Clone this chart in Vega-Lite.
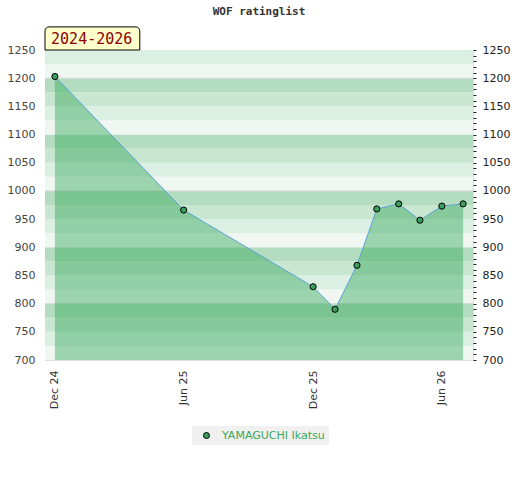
{
  "$schema": "https://vega.github.io/schema/vega-lite/v6.json",
  "width": 428,
  "height": 310,
  "autosize": {"type": "none"},
  "padding": {"left": 45, "top": 50, "right": 47, "bottom": 120},
  "background": "white",
  "title": {"text": "WOF ratinglist", "font": "DejaVu Sans Mono", "fontSize": 11, "fontWeight": "bold", "color": "#333333", "offset": 9},
  "config": {
    "view": {"stroke": "#dddddd"},
    "legend": {
      "orient": "none", "legendX": 147, "legendY": 376, "direction": "horizontal",
      "fillColor": "#f0f0f0", "padding": 4, "symbolOffset": 5, "labelOffset": 10,
      "labelColor": "#3aa85c", "labelFont": "DejaVu Sans", "labelFontSize": 11,
      "symbolSize": 36, "symbolStrokeColor": "black", "symbolStrokeWidth": 1
    }
  },
  "datasets": {
    "ratings": [
      {"month": "2024-12-01", "rating": 1203, "player": "YAMAGUCHI Ikatsu"},
      {"month": "2025-06-01", "rating": 966, "player": "YAMAGUCHI Ikatsu"},
      {"month": "2025-12-01", "rating": 830, "player": "YAMAGUCHI Ikatsu"},
      {"month": "2026-01-01", "rating": 790, "player": "YAMAGUCHI Ikatsu"},
      {"month": "2026-02-01", "rating": 868, "player": "YAMAGUCHI Ikatsu"},
      {"month": "2026-03-01", "rating": 968, "player": "YAMAGUCHI Ikatsu"},
      {"month": "2026-04-01", "rating": 977, "player": "YAMAGUCHI Ikatsu"},
      {"month": "2026-05-01", "rating": 948, "player": "YAMAGUCHI Ikatsu"},
      {"month": "2026-06-01", "rating": 973, "player": "YAMAGUCHI Ikatsu"},
      {"month": "2026-07-01", "rating": 977, "player": "YAMAGUCHI Ikatsu"}
    ],
    "bands": [
      {"lo": 700, "hi": 725, "tone": "d"},
      {"lo": 725, "hi": 750, "tone": "c"},
      {"lo": 750, "hi": 775, "tone": "b"},
      {"lo": 775, "hi": 800, "tone": "a"},
      {"lo": 800, "hi": 825, "tone": "d"},
      {"lo": 825, "hi": 850, "tone": "c"},
      {"lo": 850, "hi": 875, "tone": "b"},
      {"lo": 875, "hi": 900, "tone": "a"},
      {"lo": 900, "hi": 925, "tone": "d"},
      {"lo": 925, "hi": 950, "tone": "c"},
      {"lo": 950, "hi": 975, "tone": "b"},
      {"lo": 975, "hi": 1000, "tone": "a"},
      {"lo": 1000, "hi": 1025, "tone": "d"},
      {"lo": 1025, "hi": 1050, "tone": "c"},
      {"lo": 1050, "hi": 1075, "tone": "b"},
      {"lo": 1075, "hi": 1100, "tone": "a"},
      {"lo": 1100, "hi": 1125, "tone": "d"},
      {"lo": 1125, "hi": 1150, "tone": "c"},
      {"lo": 1150, "hi": 1175, "tone": "b"},
      {"lo": 1175, "hi": 1200, "tone": "a"},
      {"lo": 1200, "hi": 1225, "tone": "d"},
      {"lo": 1225, "hi": 1250, "tone": "c"}
    ],
    "grid": [{"level": 800}, {"level": 1000}, {"level": 1200}],
    "period": [{"label": "2024-2026"}]
  },
  "layer": [
    {
      "data": {"name": "bands"},
      "mark": {"type": "rect"},
      "encoding": {
        "y": {
          "field": "lo", "type": "quantitative",
          "scale": {"domain": [700, 1250], "nice": false, "zero": false},
          "axis": {
            "orient": "left", "title": null, "tickCount": 11, "format": "d", "ticks": false, "domain": false, "grid": false,
            "labelPadding": 10, "labelFont": "DejaVu Sans", "labelFontSize": 11, "labelColor": "#444444"
          }
        },
        "y2": {"field": "hi"},
        "fill": {
          "field": "tone", "type": "nominal", "legend": null,
          "scale": {"domain": ["a", "b", "c", "d"], "range": ["#b3dcc0", "#c8e6d0", "#dcefe3", "#f0f7f2"]}
        }
      }
    },
    {
      "data": {"name": "grid"},
      "mark": {"type": "rule", "color": "#d6d6d6", "strokeWidth": 1},
      "encoding": {
        "y": {"field": "level", "type": "quantitative", "axis": null}
      }
    },
    {
      "data": {"name": "ratings"},
      "mark": {"type": "area", "color": "#35a85c", "opacity": 0.45},
      "encoding": {
        "x": {
          "field": "month", "type": "temporal",
          "scale": {"type": "utc", "domain": [
            {"year": 2024, "month": 11, "date": 17, "utc": true},
            {"year": 2026, "month": 7, "date": 15, "utc": true}
          ]},
          "axis": {
            "title": null, "labelAngle": 270,
            "labelExpr": "utcFormat(datum.value, '%b %y')",
            "values": [
              {"year": 2024, "month": 12, "date": 1, "utc": true},
              {"year": 2025, "month": 6, "date": 1, "utc": true},
              {"year": 2025, "month": 12, "date": 1, "utc": true},
              {"year": 2026, "month": 6, "date": 1, "utc": true}
            ],
            "ticks": false, "domain": false, "grid": false, "labelPadding": 10,
            "labelFont": "DejaVu Sans", "labelFontSize": 11, "labelColor": "#333333"
          }
        },
        "y": {"field": "rating", "type": "quantitative", "axis": null},
        "y2": {"datum": 700}
      }
    },
    {
      "data": {"name": "ratings"},
      "mark": {"type": "line", "color": "#5ba3d8", "strokeWidth": 1},
      "encoding": {
        "x": {"field": "month", "type": "temporal"},
        "y": {"field": "rating", "type": "quantitative", "axis": null}
      }
    },
    {
      "data": {"name": "ratings"},
      "transform": [{"filter": "datum.month == '2024-12-01' || datum.month == '2026-07-01'"}],
      "mark": {"type": "rule", "color": "#3a9e5c", "strokeWidth": 1},
      "encoding": {
        "x": {"field": "month", "type": "temporal"},
        "y": {"field": "rating", "type": "quantitative", "axis": null},
        "y2": {"datum": 700}
      }
    },
    {
      "data": {"name": "ratings"},
      "mark": {"type": "point", "shape": "circle", "filled": true, "size": 38, "stroke": "black", "strokeWidth": 1, "opacity": 1},
      "encoding": {
        "x": {"field": "month", "type": "temporal"},
        "y": {
          "field": "rating", "type": "quantitative",
          "axis": {
            "orient": "right", "title": null, "tickCount": 55, "format": "d", "domain": false, "grid": false,
            "tickSize": 3, "tickColor": "#222222", "labelPadding": 6, "labelOverlap": false,
            "labelExpr": "datum.value % 50 == 0 ? datum.label : ''",
            "labelFont": "DejaVu Sans", "labelFontSize": 11, "labelColor": "#222222"
          }
        },
        "color": {
          "field": "player", "type": "nominal", "title": null,
          "scale": {"range": ["#3a9e5c"]}
        }
      }
    },
    {
      "data": {"name": "period"},
      "mark": {"type": "rect", "fill": "#ffffcc", "stroke": "black", "strokeWidth": 1, "cornerRadiusTopLeft": 4, "cornerRadiusTopRight": 4},
      "encoding": {
        "x": {"datum": {"year": 2024, "month": 11, "date": 17, "utc": true}, "type": "temporal"},
        "x2": {"datum": {"year": 2025, "month": 3, "date": 31, "utc": true}},
        "y": {"datum": 1250, "type": "quantitative", "axis": null},
        "y2": {"datum": 1291}
      }
    },
    {
      "data": {"name": "period"},
      "mark": {"type": "text", "font": "DejaVu Sans Mono", "fontSize": 15, "color": "#8b0000", "baseline": "middle", "align": "center"},
      "encoding": {
        "x": {"datum": {"year": 2025, "month": 1, "date": 22, "utc": true}, "type": "temporal"},
        "y": {"datum": 1270, "type": "quantitative", "axis": null},
        "text": {"field": "label"}
      }
    }
  ],
  "resolve": {"axis": {"y": "independent"}}
}
